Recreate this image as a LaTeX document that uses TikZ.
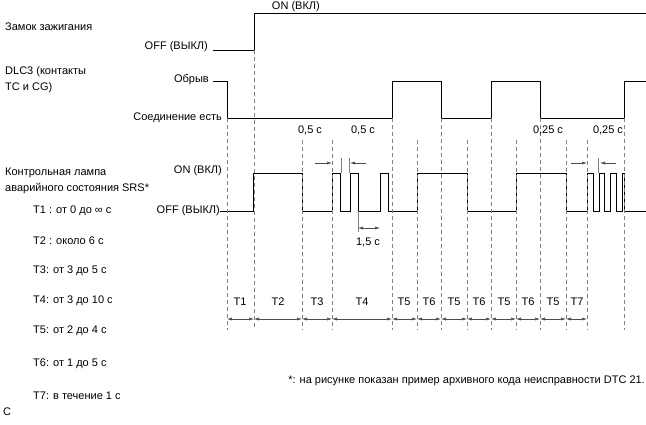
\documentclass[tikz,border=0pt]{standalone}
\usepackage{fontspec}
\setmainfont{Liberation Sans}
\usetikzlibrary{arrows.meta}
\begin{document}
\begin{tikzpicture}[x=1pt,y=-1pt,
  sig/.style={line width=0.8pt},
  grid/.style={dashed,gray,line width=0.4pt,dash pattern=on 4pt off 3pt},
  dim/.style={gray!60!black,line width=0.5pt,-{Latex[length=5pt,width=3pt]}},
  dimb/.style={gray!60!black,line width=0.5pt,{Latex[length=5pt,width=3pt]}-{Latex[length=5pt,width=3pt]}},
  lab/.style={font=\fontsize{11}{13}\selectfont,inner sep=0pt}]
\useasboundingbox (0,0) rectangle (646,424);
% ignition
\draw[sig] (213,50) -- (254,50) -- (254,13) -- (646,13);
% DLC3
\draw[sig] (213,81) -- (227,81) -- (227,118) -- (392,118) -- (392,81) -- (441,81) -- (441,118) -- (491,118) -- (491,81) -- (540,81) -- (540,118) -- (624,118) -- (624,81) -- (646,81);
% SRS
\draw[sig] (220,211) -- (253,211) -- (253,173) -- (302,173) -- (302,211) -- (332,211) -- (332,173) -- (340,173) -- (340,211) -- (350,211) -- (350,173) -- (358,173) -- (358,211) -- (380,211) -- (380,173) -- (388,173) -- (388,211) -- (417,211) -- (417,173) -- (467,173) -- (467,211) -- (516,211) -- (516,173) -- (566,173) -- (566,211) -- (587,211) -- (587,173) -- (593,173) -- (593,211) -- (599,211) -- (599,173) -- (604,173) -- (604,211) -- (610,211) -- (610,173) -- (616,173) -- (616,211) -- (622,211) -- (622,173) -- (624,173) -- (624,211) -- (646,211);
% dashed grid
\foreach \x/\t in {227/118,254/50,302/140,332/140,392/118,417/140,441/118,467/140,491/118,516/140,540/118,566/140,587/140,624/118}
  \draw[grid] (\x,\t) -- (\x,330);
% period dimension arrows
\foreach \a/\b in {227/254,254/302,302/332,332/392,392/417,417/441,441/467,467/491,491/516,516/540,540/566,566/587}
  \draw[dimb] (\a,319) -- (\b,319);
\foreach \x/\t in {240/T1,278/T2,317/T3,362/T4,404/T5,429/T6,454/T5,479/T6,504/T5,528/T6,553/T5,577/T7}
  \node[lab] at (\x,302) {\t};
% pulse width marks
\draw[gray,line width=0.5pt] (341,158) -- (341,173);
\draw[gray,line width=0.5pt] (349,158) -- (349,173);
\draw[dim] (315,163) -- (332,163);
\draw[dim] (366,163) -- (350,163);
\draw[gray,line width=0.5pt] (598,158) -- (598,173);
\draw[dim] (571,163) -- (587,163);
\draw[dim] (616,163) -- (600,163);
\draw[gray,line width=0.5pt] (358,211) -- (358,232);
\draw[dimb] (358,228) -- (380,228);
\node[lab] at (368,242) {1,5 с};
% texts
\node[lab,anchor=west] at (5,27) {Замок зажигания};
\node[lab,anchor=east] at (320,7) {ON (ВКЛ)};
\node[lab,anchor=east] at (208,47) {OFF (ВЫКЛ)};
\node[lab,anchor=west] at (5,72) {DLC3 (контакты};
\node[lab,anchor=west] at (5,88) {TC и CG)};
\node[lab,anchor=east] at (209,80) {Обрыв};
\node[lab,anchor=east] at (222,118) {Соединение есть};
\node[lab] at (310,130) {0,5 с};
\node[lab] at (363,130) {0,5 с};
\node[lab] at (548,130) {0,25 с};
\node[lab] at (608,130) {0,25 с};
\node[lab,anchor=west] at (5,173) {Контрольная лампа};
\node[lab,anchor=west] at (5,189) {аварийного состояния SRS*};
\node[lab,anchor=east] at (222,171) {ON (ВКЛ)};
\node[lab,anchor=east] at (220,211) {OFF (ВЫКЛ)};
\node[lab,anchor=west] at (33,211) {T1 : от 0 до ∞ с};
\node[lab,anchor=west] at (33,241) {T2 : около 6 с};
\node[lab,anchor=west] at (33,271) {T3: от 3 до 5 с};
\node[lab,anchor=west] at (33,301) {T4: от 3 до 10 с};
\node[lab,anchor=west] at (33,331) {T5: от 2 до 4 с};
\node[lab,anchor=west] at (33,364) {T6: от 1 до 5 с};
\node[lab,anchor=west] at (33,396) {T7: в течение 1 с};
\node[lab,anchor=east] at (645,381) {*: на рисунке показан пример архивного кода неисправности DTC 21.};
\node[lab,anchor=west] at (3,412) {C};
\end{tikzpicture}
\end{document}
